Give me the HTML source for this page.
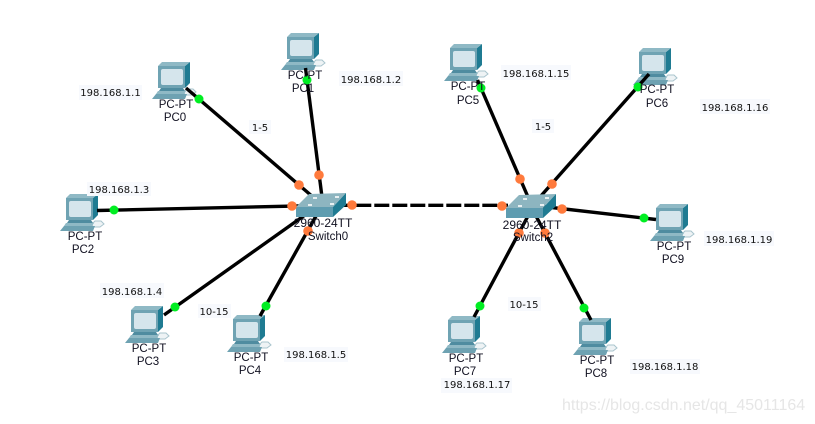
<!DOCTYPE html>
<html><head><meta charset="utf-8"><style>
html,body{margin:0;padding:0;background:#fff;width:815px;height:424px;overflow:hidden}
svg{display:block}
.l{font-family:"Liberation Sans",sans-serif;font-size:11.5px;fill:#101020;text-anchor:middle}
.s{font-family:"Liberation Sans",sans-serif;font-size:12px;fill:#101020;text-anchor:middle}
.t{font-family:"DejaVu Sans","Liberation Sans",sans-serif;font-size:10px;fill:#111;text-anchor:middle}
.b{fill:#f7f9fd}
</style></head><body>
<svg width="815" height="424" viewBox="0 0 815 424" xmlns="http://www.w3.org/2000/svg">
<defs>
<g id="pc">
<path d="M27,33 h7 l4,-3 l-3,-3 h-6 l-3,3z" fill="#eef3f5" stroke="#a9c4cd" stroke-width="1"/>
<polygon points="32,0 32,21 27,26 27,4" fill="#1f7b92"/>
<polygon points="4,0 32,0 27,4 0,4" fill="#8fb9c5"/>
<rect x="0" y="4" width="27" height="22" fill="#6fa3b3"/>
<rect x="3" y="7" width="22" height="16" rx="2" fill="#d5e5ec"/>
<polygon points="3,26 25,26 27,29 1,29" fill="#4f8ca0"/>
<polygon points="0,29 28,29 26,32 -2,32" fill="#8fb9c5"/>
<polygon points="-2,32 29,32 27,37 -6,37" fill="#6ea2b2"/>
</g>
<g id="sw">
<polygon points="13,1 50,0 37,14 0,14" fill="#8db5c0"/>
<polygon points="0,14 37,14 37,24 0,24" fill="#5e9cb0"/>
<polygon points="37,14 50,0 50,12 37,24" fill="#1f7b92"/>
<rect x="12" y="11" width="4" height="2" fill="#e8f0f2"/><rect x="34" y="10" width="4" height="2" fill="#e8f0f2"/>
<rect x="17" y="4" width="4" height="2" fill="#e8f0f2"/><rect x="39" y="3" width="4" height="2" fill="#e8f0f2"/>
</g>
</defs>
<rect width="815" height="424" fill="#fff"/>

<use href="#pc" x="158" y="62"/><use href="#pc" x="287" y="33"/><use href="#pc" x="450" y="44"/><use href="#pc" x="639" y="48"/>
<use href="#pc" x="66" y="194"/><use href="#pc" x="656" y="204"/><use href="#pc" x="131" y="306"/><use href="#pc" x="233" y="315"/>
<use href="#pc" x="448" y="316"/><use href="#pc" x="579" y="318"/>

<g stroke="#000" stroke-width="3.4" fill="none">
<line x1="186" y1="88" x2="313" y2="197"/>
<line x1="305.500" y1="68" x2="322" y2="197"/>
<line x1="97" y1="210.500" x2="320" y2="205.500"/>
<line x1="164" y1="315" x2="305" y2="215"/>
<line x1="260" y1="316" x2="316" y2="216"/>
<line x1="338.300" y1="205.300" x2="508" y2="205.300" stroke-dasharray="15 3"/>
<line x1="477.500" y1="80" x2="528" y2="197"/>
<line x1="649" y1="74" x2="540" y2="197"/>
<line x1="530" y1="205" x2="656" y2="219.500"/>
<line x1="528" y1="216" x2="474" y2="317"/>
<line x1="536" y1="216" x2="591" y2="320"/>
</g>

<use href="#sw" x="296" y="193"/><use href="#sw" x="506" y="194"/>

<g fill="#00ee22">
<circle cx="199" cy="99" r="4.500"/><circle cx="307" cy="80" r="4.500"/><circle cx="114" cy="210" r="4.500"/><circle cx="175" cy="307" r="4.500"/><circle cx="266" cy="306" r="4.500"/>
<circle cx="481" cy="88" r="4.500"/><circle cx="638" cy="87" r="4.500"/><circle cx="644" cy="218" r="4.500"/><circle cx="480" cy="306" r="4.500"/><circle cx="584" cy="308" r="4.500"/>
</g>
<g fill="#ff7a3c">
<circle cx="299" cy="185" r="4.800"/><circle cx="319" cy="175" r="4.800"/><circle cx="292" cy="206" r="4.800"/><circle cx="352" cy="205" r="4.800"/><circle cx="308" cy="231" r="4.800"/>
<circle cx="520" cy="179" r="4.800"/><circle cx="552" cy="184" r="4.800"/><circle cx="502" cy="206" r="4.800"/><circle cx="562" cy="209" r="4.800"/><circle cx="519" cy="233" r="4.800"/><circle cx="545" cy="233" r="4.800"/>
</g>

<g>
<text class="l" x="176" y="108">PC-PT</text><text class="l" x="175" y="121">PC0</text>
<text class="l" x="305" y="79">PC-PT</text><text class="l" x="303" y="92">PC1</text>
<text class="l" x="468" y="90">PC-PT</text><text class="l" x="468" y="104">PC5</text>
<text class="l" x="657" y="93">PC-PT</text><text class="l" x="657" y="107">PC6</text>
<text class="l" x="85" y="240">PC-PT</text><text class="l" x="83" y="253">PC2</text>
<text class="l" x="674" y="250">PC-PT</text><text class="l" x="673" y="263">PC9</text>
<text class="l" x="149" y="352">PC-PT</text><text class="l" x="148" y="365">PC3</text>
<text class="l" x="251" y="361">PC-PT</text><text class="l" x="250" y="374">PC4</text>
<text class="l" x="466" y="362">PC-PT</text><text class="l" x="465" y="375">PC7</text>
<text class="l" x="597" y="364">PC-PT</text><text class="l" x="596" y="377">PC8</text>
<text class="s" x="323" y="227">2960-24TT</text><text class="l" x="328" y="240">Switch0</text>
<text class="s" x="532" y="229">2960-24TT</text><text class="l" x="533" y="241">Switch2</text>
</g>

<g>
<rect class="b" x="79" y="85" width="63" height="15"/><rect class="b" x="339" y="71" width="64" height="15"/><rect class="b" x="87" y="182" width="64" height="14"/><rect class="b" x="100" y="283" width="64" height="15"/><rect class="b" x="284" y="347" width="64" height="15"/>
<rect class="b" x="501" y="65" width="70" height="15"/><rect class="b" x="700" y="99" width="70" height="15"/><rect class="b" x="704" y="231" width="70" height="15"/><rect class="b" x="630" y="359" width="70" height="15"/><rect class="b" x="441" y="378" width="71" height="15"/>
<rect class="b" x="249" y="120" width="22" height="14"/><rect class="b" x="532" y="119" width="22" height="14"/><rect class="b" x="198" y="304" width="33" height="14"/><rect class="b" x="508" y="297" width="33" height="14"/>
<text class="t" x="110.500" y="96">198.168.1.1</text>
<text class="t" x="371" y="83">198.168.1.2</text>
<text class="t" x="119" y="193">198.168.1.3</text>
<text class="t" x="132" y="295">198.168.1.4</text>
<text class="t" x="316" y="358">198.168.1.5</text>
<text class="t" x="536" y="77">198.168.1.15</text>
<text class="t" x="735" y="111">198.168.1.16</text>
<text class="t" x="739" y="243">198.168.1.19</text>
<text class="t" x="665" y="370">198.168.1.18</text>
<text class="t" x="477" y="388">198.168.1.17</text>
<text class="t" x="260" y="131">1-5</text>
<text class="t" x="543" y="130">1-5</text>
<text class="t" x="214" y="315">10-15</text>
<text class="t" x="524" y="308">10-15</text>
</g>
<text x="562" y="410" font-family="'Liberation Sans',sans-serif" font-size="16" fill="#e6e6e6">https://blog.csdn.net/qq_45011164</text>
</svg>
</body></html>
